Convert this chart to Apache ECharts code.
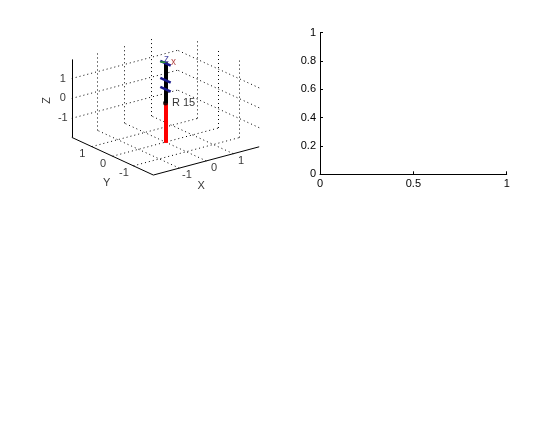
<!DOCTYPE html>
<html>
<head>
<meta charset="utf-8">
<script src="https://cdn.jsdelivr.net/npm/echarts@6/dist/echarts.min.js"></script>
<style>
html,body{margin:0;padding:0;background:#fff;}
#chart{width:559px;height:421px;}
</style>
</head>
<body>
<div id="chart"></div>
<script>
// ---------- data ----------
const axisLimit = 1.96;               // 3D box limits (+/-)
const xTicks3d = [-1, 0, 1];
const yTicks3d = [-1, 0, 1];
const zTicks3d = [-1, 0, 1];
const robotName = 'R 15';
const pedestalZ = [-2, 0];            // red pedestal from floor to base
const linkZ = [0, 0.7, 1.15, 2.05];   // joint heights along the arm
const jointAxisZ = [0.7, 1.15, 2.0];  // blue joint-axis markers
const frameLabels = ['z', 'x'];
const plotXTicks = [0, 0.5, 1];
const plotYTicks = [0, 0.2, 0.4, 0.6, 0.8, 1];

// ---------- 3D camera (orthographic, MATLAB-like view) ----------
const cam = {ox: 165.5, oy: 103.1, ex: [27.0, -7.2], ey: [-20.8, -9.6], ez: -19.9};
function P(x, y, z) {
  return [cam.ox + x * cam.ex[0] + y * cam.ey[0],
          cam.oy + x * cam.ex[1] + y * cam.ey[1] + z * cam.ez];
}
const L = axisLimit;
const seg = (a, b) => ({coords: [P(a[0], a[1], a[2]), P(b[0], b[1], b[2])]});

const axisSegs = [
  seg([-L, L, -L], [-L, L, L]),
  seg([-L, L, -L], [-L, -L, -L]),
  seg([-L, -L, -L], [L, -L, -L])
];
const gridSegs = [];
xTicks3d.forEach(t => { gridSegs.push(seg([t, -L, -L], [t, L, -L])); gridSegs.push(seg([t, L, -L], [t, L, L])); });
yTicks3d.forEach(t => { gridSegs.push(seg([-L, t, -L], [L, t, -L])); gridSegs.push(seg([L, t, -L], [L, t, L])); });
zTicks3d.forEach(t => { gridSegs.push(seg([-L, L, t], [L, L, t])); gridSegs.push(seg([L, -L, t], [L, L, t])); });

const pedestalSegs = [seg([0, 0, pedestalZ[0]], [0, 0, pedestalZ[1]])];
const linkSegs = [];
for (let i = 0; i < linkZ.length - 1; i++) linkSegs.push(seg([0, 0, linkZ[i]], [0, 0, linkZ[i + 1]]));
const jointSegs = jointAxisZ.map(z => seg([0, -0.25, z], [0, 0.25, z]));
const topZ = linkZ[linkZ.length - 1];
const frameSegs = [seg([0, 0, topZ], [-0.05, 0.18, topZ - 0.05])];

const labelFont = 'Liberation Sans, Arial, sans-serif';
const labelPts = [];
zTicks3d.forEach(t => { const p = P(-L, L, t); labelPts.push({value: [p[0] - 9, p[1]], name: String(t)}); });
yTicks3d.forEach(t => { const p = P(-L, t, -L); labelPts.push({value: [p[0] - 9.5, p[1] + 7.5], name: String(t)}); });
xTicks3d.forEach(t => { const p = P(t, -L, -L); labelPts.push({value: [p[0] + 7.7, p[1] + 7.2], name: String(t)}); });

const yTitle = P(-L, 0, -L); const xTitle = P(0, -L, -L); const zTitle = P(-L, L, 0);
const basePt = P(0, 0, 0);
const topPt = P(0, 0, topZ);

const option = {
  animation: false,
  backgroundColor: '#fff',
  textStyle: {fontFamily: labelFont},
  grid: [
    {left: 0, top: 0, width: 559, height: 421, show: false},
    {left: 320, top: 32.7, width: 186.7, height: 141.6, show: false}
  ],
  xAxis: [
    {gridIndex: 0, type: 'value', min: 0, max: 559, show: false},
    {gridIndex: 1, type: 'value', min: 0, max: 1, interval: 0.5,
     axisLine: {lineStyle: {color: '#000', width: 1}},
     axisTick: {inside: true, length: 3, lineStyle: {color: '#000'}},
     splitLine: {show: false},
     axisLabel: {color: '#000', fontSize: 11, margin: 4, fontFamily: labelFont,
                 formatter: v => plotXTicks.indexOf(v) >= 0 ? String(v) : ''}}
  ],
  yAxis: [
    {gridIndex: 0, type: 'value', min: 0, max: 421, inverse: true, show: false},
    {gridIndex: 1, type: 'value', min: 0, max: 1, interval: 0.2,
     axisLine: {show: true, lineStyle: {color: '#000', width: 1}},
     axisTick: {show: true, inside: true, length: 3, lineStyle: {color: '#000'}},
     splitLine: {show: false},
     axisLabel: {color: '#000', fontSize: 11, margin: 4, fontFamily: labelFont,
                 formatter: v => { const s = plotYTicks.find(t => Math.abs(t - v) < 1e-9); return s === undefined ? '' : String(s); }}}
  ],
  series: [
    {type: 'lines', coordinateSystem: 'cartesian2d', xAxisIndex: 0, yAxisIndex: 0, silent: true,
     lineStyle: {color: '#000', width: 1, type: [1, 3], opacity: 1}, data: gridSegs},
    {type: 'lines', coordinateSystem: 'cartesian2d', xAxisIndex: 0, yAxisIndex: 0, silent: true,
     lineStyle: {color: '#000', width: 1, opacity: 1}, data: axisSegs},
    {type: 'lines', coordinateSystem: 'cartesian2d', xAxisIndex: 0, yAxisIndex: 0, silent: true,
     lineStyle: {color: '#ff0000', width: 4, opacity: 1}, data: pedestalSegs},
    {type: 'lines', coordinateSystem: 'cartesian2d', xAxisIndex: 0, yAxisIndex: 0, silent: true,
     lineStyle: {color: '#000', width: 4, opacity: 1}, data: linkSegs},
    {type: 'lines', coordinateSystem: 'cartesian2d', xAxisIndex: 0, yAxisIndex: 0, silent: true,
     lineStyle: {color: '#1a1a8c', width: 2.5, opacity: 1}, data: jointSegs},
    {type: 'lines', coordinateSystem: 'cartesian2d', xAxisIndex: 0, yAxisIndex: 0, silent: true,
     lineStyle: {color: '#2ca02c', width: 1.5, opacity: 1}, data: frameSegs},
    {type: 'scatter', xAxisIndex: 0, yAxisIndex: 0, silent: true, symbol: 'circle', symbolSize: 5,
     itemStyle: {color: '#000'}, data: [basePt],
     label: {show: true, position: 'right', distance: 4, formatter: robotName, color: '#000', fontSize: 11, fontFamily: labelFont}},
    {type: 'scatter', xAxisIndex: 0, yAxisIndex: 0, silent: true, symbolSize: 0,
     data: labelPts,
     label: {show: true, position: 'inside', formatter: p => p.name, color: '#000', fontSize: 11, fontFamily: labelFont}},
    {type: 'scatter', xAxisIndex: 0, yAxisIndex: 0, silent: true, symbolSize: 0,
     data: [
       {value: [yTitle[0] - 6, yTitle[1] + 27], name: 'Y'},
       {value: [xTitle[0] - 5, xTitle[1] + 25], name: 'X'},
       {value: [zTitle[0] - 25, zTitle[1] + 2], name: 'Z', label: {rotate: 90}}
     ],
     label: {show: true, position: 'inside', formatter: p => p.name, color: '#000', fontSize: 11, fontFamily: labelFont}},
    {type: 'scatter', xAxisIndex: 0, yAxisIndex: 0, silent: true, symbolSize: 0,
     data: [
       {value: [topPt[0] + 1, topPt[1] - 3], name: frameLabels[0], label: {color: '#1a1a8c'}},
       {value: [topPt[0] + 8, topPt[1]], name: frameLabels[1], label: {color: '#a02020'}}
     ],
     label: {show: true, position: 'inside', formatter: p => p.name, fontSize: 10, fontFamily: labelFont}},
    {type: 'line', xAxisIndex: 1, yAxisIndex: 1, data: [], silent: true}
  ]
};
const chart = echarts.init(document.getElementById('chart'), null, {renderer: 'canvas'});
chart.setOption(option);
</script>
</body>
</html>
